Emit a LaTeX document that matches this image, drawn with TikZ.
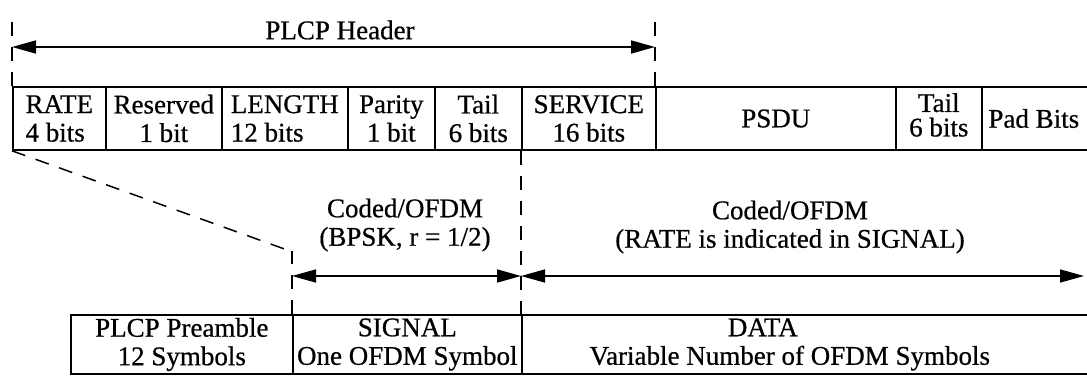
\documentclass[tikz,border=0pt]{standalone}
\usepackage{fontspec}
\setmainfont{Liberation Serif}[FakeBold=0.6]
\usetikzlibrary{arrows.meta}
\begin{document}
\begin{tikzpicture}[x=1pt,y=1pt,
  txt/.style={font=\fontsize{27}{28.5}\selectfont, inner sep=0pt, align=center},
  cell/.style={txt, draw, line width=1.6pt, anchor=west},
  toprow/.style={cell, minimum height=63pt},
  botrow/.style={cell, minimum height=59pt},
  arr/.style={line width=1.6pt, {Triangle[length=24pt,width=13pt]}-{Triangle[length=24pt,width=13pt]}},
  dsh/.style={line width=1.5pt, dash pattern=on 14pt off 11pt}]
\useasboundingbox (0,0) rectangle (1087,-377);
% top row
\node[toprow, minimum width=93pt, align=left] (rate) at (12,-118.5) {RATE\\4 bits};
\node[toprow, minimum width=116pt] (reserved) at (105,-118.5) {Reserved\\1 bit};
\node[toprow, minimum width=126pt, align=left] (length) at (221,-118.5) {LENGTH\\12 bits};
\node[toprow, minimum width=87pt] (parity) at (347,-118.5) {Parity\\1 bit};
\node[toprow, minimum width=87pt] (tailA) at (434,-118.5) {Tail\\6 bits};
\node[toprow, minimum width=134pt] (service) at (521,-118.5) {SERVICE\\16 bits};
\node[toprow, minimum width=240pt] (psdu) at (655,-118.5) {PSDU};
\node[toprow, minimum width=86pt] (tailB) at (895,-118.5) {\raisebox{-3pt}{\begin{tabular}{@{}c@{}}Tail\\[-4pt]6 bits\end{tabular}}};
\node[toprow, minimum width=114pt] (pad) at (981,-118.5) {Pad Bits\hspace*{10pt}};
% bottom row
\node[botrow, minimum width=222pt] (pre) at (70,-344.5) {PLCP Preamble\\12 Symbols};
\node[botrow, minimum width=229pt] (signal) at (292,-344.5) {SIGNAL\\One OFDM Symbol};
\node[botrow, minimum width=574pt] (data) at (521,-344.5) {DATA\hspace*{92pt}\\Variable Number of OFDM Symbols\hspace*{38pt}};
% labels
\node[txt] (hdr) at (340,-30) {PLCP Header};
\node[txt] (codA) at (405,-225) {Coded/OFDM\\(BPSK, r = 1/2)};
\node[txt] (codB) at (790,-227) {Coded/OFDM\\(RATE is indicated in SIGNAL)};
% coordinates
\coordinate (hTopL) at (12,-20);
\coordinate (hTopR) at (655,-20);
\coordinate (hL) at (12,-47);
\coordinate (hR) at (655,-47);
\coordinate (sigTop) at (290,-251);
\coordinate (aL) at (292,-276);
\coordinate (aM) at (521,-276);
\coordinate (aR) at (1084,-276);
% dashed guides
\draw[dsh] (rate.north west) -- (hTopL);
\draw[dsh] (psdu.north west) -- (hTopR);
\draw[dsh] (rate.south west) -- (sigTop);
\draw[dsh] (signal.north west) -- (sigTop -| signal.north west);
\draw[dsh] (service.south west) -- (data.north west);
% arrows
\draw[arr] (hL) -- (hR);
\draw[arr] (aL) -- (aM);
\draw[arr] (aM) -- (aR);
\end{tikzpicture}
\end{document}
